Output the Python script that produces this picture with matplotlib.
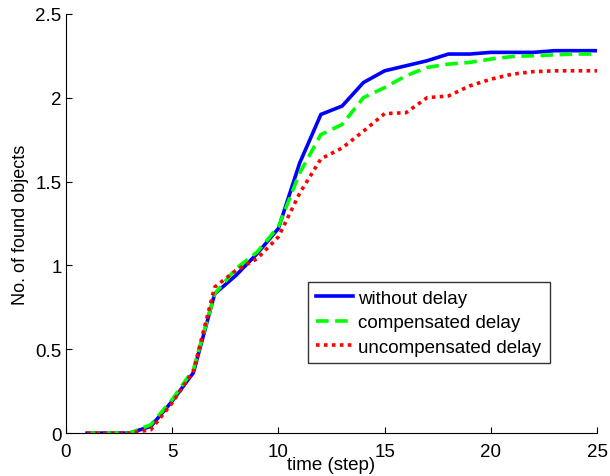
import numpy as np
import matplotlib.pyplot as plt

plt.rcParams['font.family'] = ['Liberation Sans', 'DejaVu Sans']

# time steps
t = np.arange(1, 26)

# average number of found objects per step
without_delay = [0, 0, 0, 0.04, 0.19, 0.36, 0.83, 0.94, 1.07, 1.22,
                 1.61, 1.90, 1.95, 2.09, 2.16, 2.19, 2.22, 2.26, 2.26, 2.27,
                 2.27, 2.27, 2.28, 2.28, 2.28]
compensated = [0, 0, 0, 0.05, 0.20, 0.38, 0.83, 0.98, 1.08, 1.23,
               1.55, 1.78, 1.84, 2.00, 2.06, 2.13, 2.18, 2.20, 2.21, 2.23,
               2.245, 2.25, 2.255, 2.26, 2.26]
uncompensated = [0, 0, 0, 0.02, 0.18, 0.37, 0.87, 0.97, 1.04, 1.17,
                 1.43, 1.635, 1.70, 1.80, 1.905, 1.91, 2.00, 2.01, 2.07, 2.11,
                 2.14, 2.155, 2.16, 2.16, 2.16]

fig = plt.figure(figsize=(6.1, 4.77), dpi=100)
ax = fig.add_axes([0.108, 0.090, 0.871, 0.879])

ax.plot(t, without_delay, color='#0000ff', lw=2.6, label='without delay')
ax.plot(t, compensated, color='#00ff00', lw=2.6, ls=(0, (3.5, 1.8)), label='compensated delay')
ax.plot(t, uncompensated, color='#ff0000', lw=2.6, ls=(0, (1, 1.2)), label='uncompensated delay')

ax.set_xlim(0, 25)
ax.set_ylim(0, 2.5)
ax.set_xticks([0, 5, 10, 15, 20, 25])
ax.set_yticks([0, 0.5, 1, 1.5, 2, 2.5])
ax.set_yticklabels(['0', '0.5', '1', '1.5', '2', '2.5'])
ax.tick_params(direction='in', labelsize=13.5, length=4, width=0.8)
ax.tick_params(axis='x', pad=7)
ax.tick_params(axis='y', pad=3)
ax.spines['top'].set_visible(False)
ax.spines['right'].set_visible(False)

ax.set_xlabel('time (step)', fontsize=13.5, labelpad=-3)
ax.set_ylabel('No. of found objects', fontsize=13, labelpad=5)

leg = ax.legend(loc='lower left', bbox_to_anchor=(0.456, 0.166, 0.455, 0.2),
                mode='expand', fontsize=13.5, frameon=True, fancybox=False,
                edgecolor='black', handlelength=2.0, handletextpad=0.25,
                labelspacing=0.4, borderpad=0.4, borderaxespad=0)
leg.get_frame().set_linewidth(1.0)

fig.savefig('out.png', dpi=100)
